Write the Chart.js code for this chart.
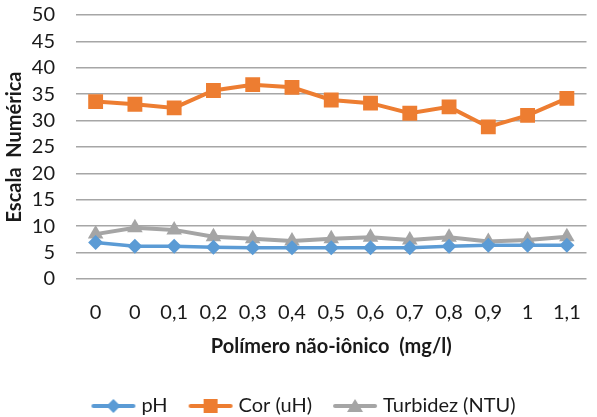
<!DOCTYPE html>
<html>
<head>
<meta charset="utf-8">
<script src="https://cdn.jsdelivr.net/npm/chart.js@4.4.0/dist/chart.umd.min.js"></script>
<style>
  html, body { margin: 0; padding: 0; background: #fff; }
  #wrap { width: 597px; height: 417px; position: relative; }
</style>
</head>
<body>
<div id="wrap"><canvas id="chart"></canvas></div>
<script>

// data
var categories = ["0", "0", "0,1", "0,2", "0,3", "0,4", "0,5", "0,6", "0,7", "0,8", "0,9", "1", "1,1"];
var phValues = [6.9, 6.2, 6.2, 6.0, 5.9, 5.9, 5.9, 5.9, 5.9, 6.2, 6.4, 6.4, 6.4];
var corValues = [33.6, 33.1, 32.4, 35.7, 36.8, 36.3, 33.9, 33.3, 31.4, 32.6, 28.8, 31.0, 34.2];
var turbValues = [8.5, 9.7, 9.3, 8.0, 7.6, 7.2, 7.6, 7.9, 7.4, 7.9, 7.1, 7.4, 8.0];
var yTicks = [0, 5, 10, 15, 20, 25, 30, 35, 40, 45, 50];

var FONT = "Lato, 'Liberation Sans', sans-serif";

// legend swatch: line with the marker in the middle, sits a bit to the right
// of the legend box so the text comes close to it
function swatch(color, shape){
	var c = document.createElement("canvas");
	c.width = 60; c.height = 16;
	var g = c.getContext("2d");
	g.strokeStyle = color;
	g.lineWidth = 4;
	g.lineCap = "round";
	g.beginPath(); g.moveTo(17, 8); g.lineTo(57, 8); g.stroke();
	g.fillStyle = color;
	g.beginPath();
	if (shape == "rectRot"){
		g.moveTo(37, 1); g.lineTo(44, 8); g.lineTo(37, 15); g.lineTo(30, 8);
	} else if (shape == "rect"){
		g.rect(30, 1, 14, 14);
	} else {
		g.moveTo(37, 1); g.lineTo(45, 14); g.lineTo(29, 14);
	}
	g.closePath(); g.fill();
	return c;
}

var ctx = document.getElementById("chart").getContext("2d");

var myChart = new Chart(ctx, {
	type: 'line',
	data: {
		labels: categories,
		datasets: [
		{
			label: "pH",
			data: phValues,
			borderColor: "#5B9BD5",
			backgroundColor: "#5B9BD5",
			borderWidth: 3.5,
			pointStyle: "rectRot",
			pointRadius: 7.5,
			pointBorderWidth: 0,
			legendSwatch: swatch("#5B9BD5", "rectRot")
		},
		{
			label: "Cor (uH)",
			data: corValues,
			borderColor: "#ED7D31",
			backgroundColor: "#ED7D31",
			borderWidth: 4,
			pointStyle: "rect",
			pointRadius: 10.5,
			pointBorderWidth: 0,
			legendSwatch: swatch("#ED7D31", "rect")
		},
		{
			label: "Turbidez (NTU)",
			data: turbValues,
			borderColor: "#A5A5A5",
			backgroundColor: "#A5A5A5",
			borderWidth: 4,
			pointStyle: "triangle",
			pointRadius: 9,
			pointBorderWidth: 0,
			legendSwatch: swatch("#A5A5A5", "triangle")
		}]
	},
	options: {
		responsive: true,
		maintainAspectRatio: false,
		animation: false,
		layout: { padding: { top: 15, right: 0, left: 0, bottom: -9 } },
		plugins: {
			tooltip: { enabled: false },
			legend: {
				position: "bottom",
				labels: {
					usePointStyle: true,
					pointStyleWidth: 50,
					boxHeight: 16,
					padding: 11,
					color: "#1a1a1a",
					font: { family: FONT, size: 20 },
					generateLabels: function(chart){
						return chart.data.datasets.map(function(ds, i){
							return {
								text: ds.label,
								fillStyle: ds.backgroundColor,
								strokeStyle: ds.borderColor,
								pointStyle: ds.legendSwatch,
								lineWidth: 0,
								hidden: false,
								datasetIndex: i,
								fontColor: "#1a1a1a"
							};
						});
					}
				}
			}
		},
		scales: {
			x: {
				offset: true,
				grid: { display: false, drawTicks: false },
				border: { display: false },
				ticks: {
					color: "#1a1a1a",
					padding: 22,
					maxRotation: 0,
					autoSkip: false,
					font: { family: FONT, size: 20 }
				},
				title: {
					display: true,
					text: "Polímero não-iônico  (mg/l)",
					color: "#1a1a1a",
					padding: { top: 0, bottom: 26 },
					font: { family: FONT, size: 20, weight: "bold" }
				},
				afterFit: function(scale){
					scale.height = 106;
					scale.paddingLeft = 0;
					scale.paddingRight = 0;
				}
			},
			y: {
				min: 0,
				max: 50,
				afterBuildTicks: function(scale){
					scale.ticks = yTicks.map(function(v){ return { value: v }; });
				},
				grid: { color: "#A6A6A6", lineWidth: 1.5, drawTicks: false },
				border: { display: false },
				ticks: {
					color: "#1a1a1a",
					padding: 21,
					autoSkip: false,
					font: { family: FONT, size: 20 }
				},
				title: {
					display: true,
					text: "Escala  Numérica",
					color: "#1a1a1a",
					padding: { top: 3, bottom: 0 },
					font: { family: FONT, size: 20, weight: "bold" }
				},
				afterFit: function(scale){
					scale.width = 76;
					// the tick padding would otherwise push the plot down
					scale.paddingTop = 0;
					scale.paddingBottom = 0;
				}
			}
		}
	}
});
</script>
</body>
</html>
